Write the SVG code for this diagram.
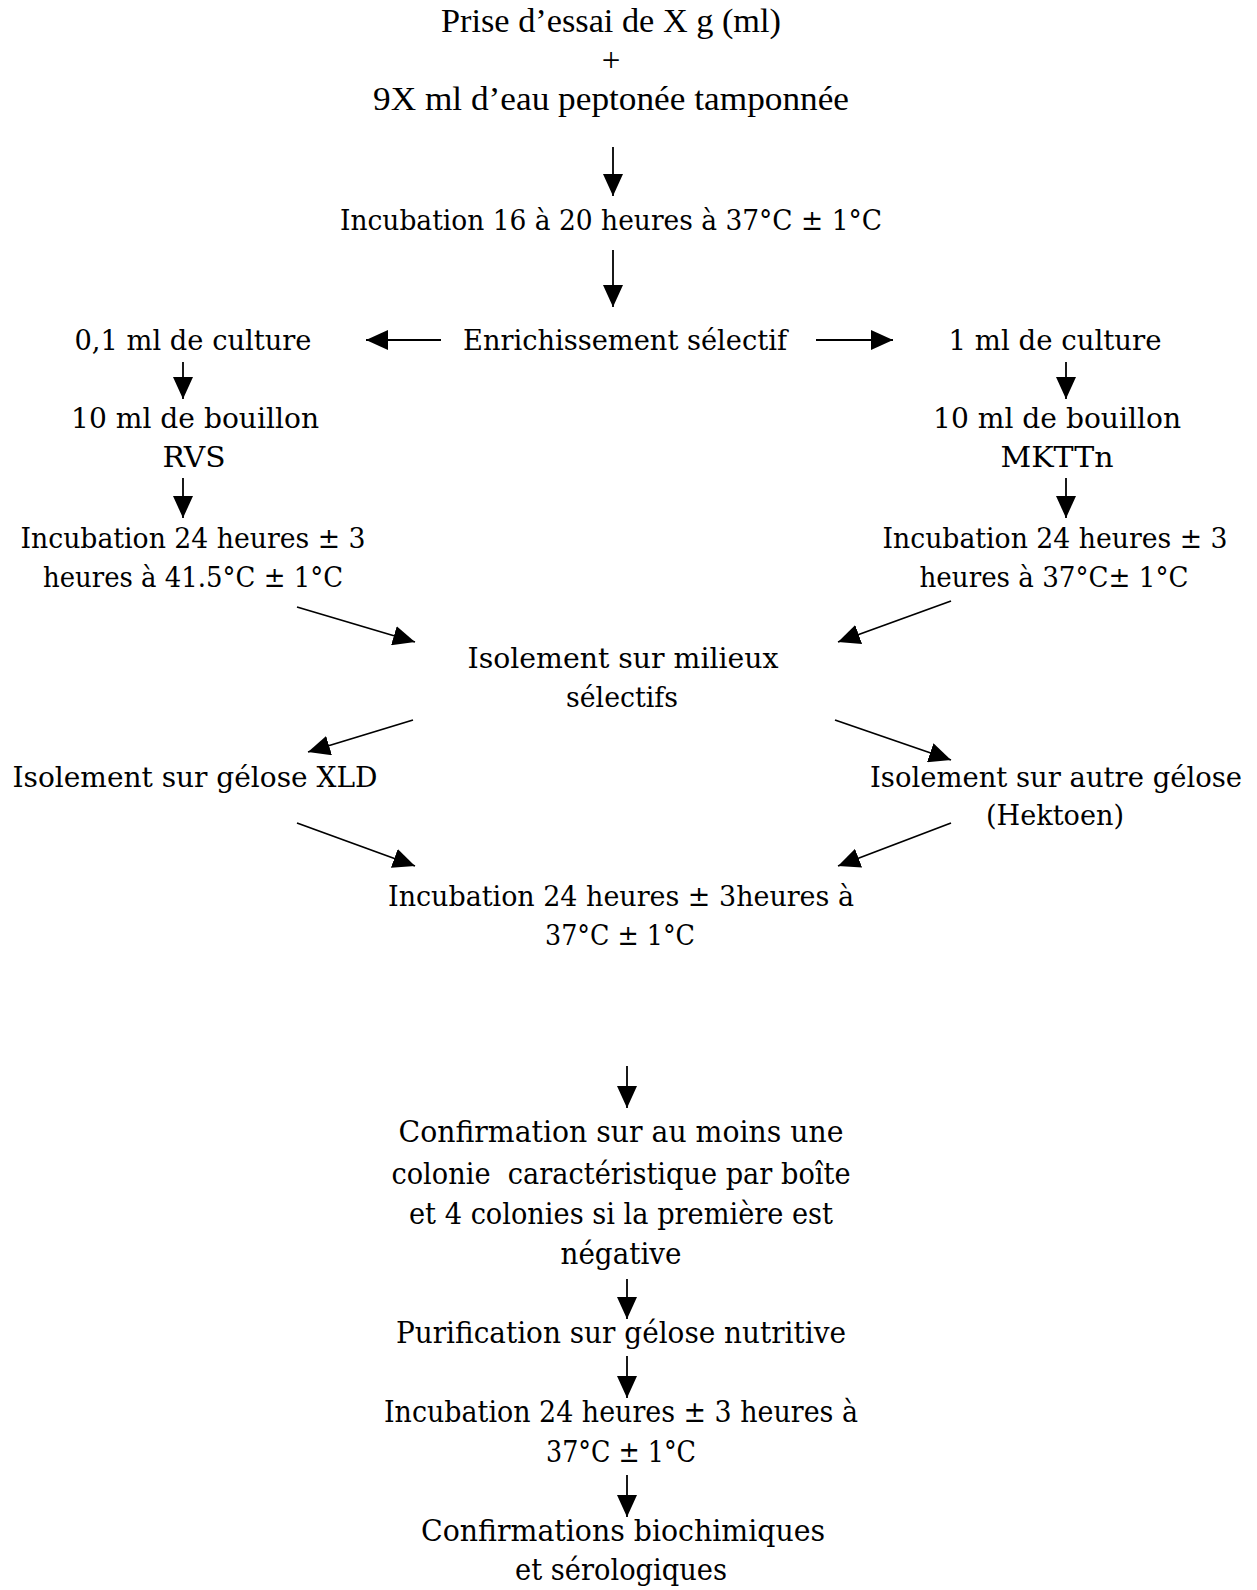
<svg xmlns="http://www.w3.org/2000/svg" width="1257" height="1590" viewBox="0 0 1257 1590">
<style>
text{font-family:"DejaVu Serif","Liberation Serif",serif;font-size:27.5px;fill:#000;text-anchor:middle}
text.t{font-family:"Liberation Serif","Times New Roman",serif;font-size:33px}
text.b{font-size:29px}
.c line{stroke:#000;stroke-width:1.8;fill:none;marker-end:url(#ah)}
</style>
<defs>
<marker id="ah" markerUnits="userSpaceOnUse" markerWidth="22" markerHeight="20" refX="22" refY="10" orient="auto" viewBox="0 0 22 20">
<path d="M0,0 L22,10 L0,20 z" fill="#000"/>
</marker>
</defs>
<rect width="1257" height="1590" fill="#fff"/>
<g id="n-start"><text class="t" x="611" y="32" textLength="340" lengthAdjust="spacingAndGlyphs">Prise d’essai de X g (ml)</text><text class="t" x="611" y="71">+</text><text class="t" x="611" y="110" textLength="476" lengthAdjust="spacingAndGlyphs">9X ml d’eau peptonée tamponnée</text></g>
<g id="n-inc1"><text x="611" y="230" textLength="542" lengthAdjust="spacingAndGlyphs">Incubation 16 à 20 heures à 37°C ± 1°C</text></g>
<g id="n-enr"><text x="625" y="350" textLength="324" lengthAdjust="spacingAndGlyphs">Enrichissement sélectif</text></g>
<g id="n-l1"><text x="193" y="350" textLength="237" lengthAdjust="spacingAndGlyphs">0,1 ml de culture</text></g>
<g id="n-r1"><text x="1055" y="350" textLength="213" lengthAdjust="spacingAndGlyphs">1 ml de culture</text></g>
<g id="n-l2"><text x="195" y="428" textLength="248" lengthAdjust="spacingAndGlyphs">10 ml de bouillon</text><text x="194" y="467" textLength="63" lengthAdjust="spacingAndGlyphs">RVS</text></g>
<g id="n-r2"><text x="1057" y="428" textLength="248" lengthAdjust="spacingAndGlyphs">10 ml de bouillon</text><text x="1057" y="467" textLength="113" lengthAdjust="spacingAndGlyphs">MKTTn</text></g>
<g id="n-l3"><text x="193" y="548" textLength="345" lengthAdjust="spacingAndGlyphs">Incubation 24 heures ± 3</text><text x="193" y="587" textLength="300" lengthAdjust="spacingAndGlyphs">heures à 41.5°C ± 1°C</text></g>
<g id="n-r3"><text x="1055" y="548" textLength="345" lengthAdjust="spacingAndGlyphs">Incubation 24 heures ± 3</text><text x="1054" y="587" textLength="269" lengthAdjust="spacingAndGlyphs">heures à 37°C± 1°C</text></g>
<g id="n-iso"><text x="623" y="668" textLength="311" lengthAdjust="spacingAndGlyphs">Isolement sur milieux</text><text x="622" y="707" textLength="112" lengthAdjust="spacingAndGlyphs">sélectifs</text></g>
<g id="n-xld"><text x="195" y="787" textLength="365" lengthAdjust="spacingAndGlyphs">Isolement sur gélose XLD</text></g>
<g id="n-hek"><text x="1056" y="787" textLength="372" lengthAdjust="spacingAndGlyphs">Isolement sur autre gélose</text><text x="1055" y="825" textLength="138" lengthAdjust="spacingAndGlyphs">(Hektoen)</text></g>
<g id="n-inc2"><text x="621" y="906" textLength="466" lengthAdjust="spacingAndGlyphs">Incubation 24 heures ± 3heures à</text><text x="620" y="945" textLength="150" lengthAdjust="spacingAndGlyphs">37°C ± 1°C</text></g>
<g id="n-conf"><text class="b" x="621" y="1142" textLength="445" lengthAdjust="spacingAndGlyphs">Confirmation sur au moins une</text><text class="b" x="621" y="1184" xml:space="preserve" textLength="459" lengthAdjust="spacingAndGlyphs">colonie  caractéristique par boîte</text><text class="b" x="621" y="1224" textLength="424" lengthAdjust="spacingAndGlyphs">et 4 colonies si la première est</text><text class="b" x="621" y="1264" textLength="121" lengthAdjust="spacingAndGlyphs">négative</text></g>
<g id="n-pur"><text class="b" x="621" y="1343" textLength="450" lengthAdjust="spacingAndGlyphs">Purification sur gélose nutritive</text></g>
<g id="n-inc3"><text class="b" x="621" y="1422" textLength="474" lengthAdjust="spacingAndGlyphs">Incubation 24 heures ± 3 heures à</text><text class="b" x="621" y="1462" textLength="150" lengthAdjust="spacingAndGlyphs">37°C ± 1°C</text></g>
<g id="n-bio"><text class="b" x="623" y="1541" textLength="404" lengthAdjust="spacingAndGlyphs">Confirmations biochimiques</text><text class="b" x="621" y="1580" textLength="212" lengthAdjust="spacingAndGlyphs">et sérologiques</text></g>
<g class="c" id="connectors">
<line x1="613" y1="147" x2="613" y2="196"/>
<line x1="613" y1="250" x2="613" y2="307"/>
<line x1="441" y1="340" x2="366" y2="340"/>
<line x1="816" y1="340" x2="893" y2="340"/>
<line x1="183" y1="362" x2="183" y2="399"/>
<line x1="1066" y1="362" x2="1066" y2="399"/>
<line x1="183" y1="478" x2="183" y2="518"/>
<line x1="1066" y1="478" x2="1066" y2="518"/>
<line x1="297" y1="607" x2="415" y2="642"/>
<line x1="951" y1="601" x2="838" y2="642"/>
<line x1="413" y1="720" x2="308" y2="752"/>
<line x1="835" y1="720" x2="951" y2="760"/>
<line x1="297" y1="823" x2="415" y2="866"/>
<line x1="951" y1="823" x2="838" y2="866"/>
<line x1="627" y1="1066" x2="627" y2="1108"/>
<line x1="627" y1="1279" x2="627" y2="1319"/>
<line x1="627" y1="1356" x2="627" y2="1398"/>
<line x1="627" y1="1475" x2="627" y2="1517"/>
</g>
</svg>
